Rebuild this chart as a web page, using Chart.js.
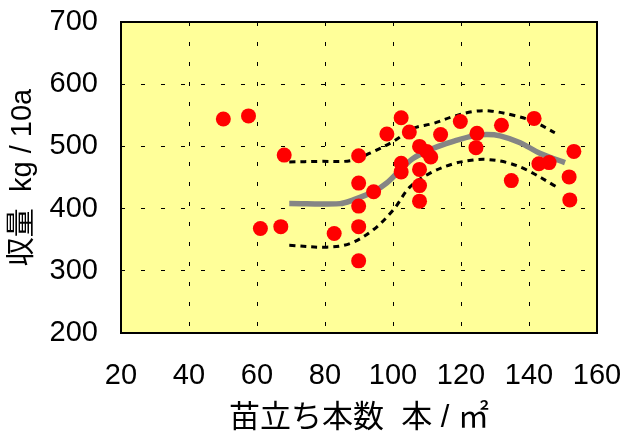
<!DOCTYPE html>
<html lang="ja">
<head>
<meta charset="UTF-8">
<title>苗立ち本数と収量</title>
<script src="https://cdn.jsdelivr.net/npm/chart.js"></script>
<style>
  body { margin: 0; background: #fff; }
  #wrap { width: 621px; height: 436px; }
</style>
</head>
<body>
<div id="wrap"><canvas id="yieldChart" width="621" height="436"></canvas></div>
<script>
// 苗立ち本数 (本/m2) と 収量 (kg/10a)
const standX = [50.1, 57.5, 68.0, 61.0, 67.0, 82.7, 89.9, 89.9, 89.9, 89.9, 89.9, 94.3,
                98.2, 102.4, 104.8, 102.4, 102.4, 107.8, 109.9, 111.1, 107.8, 107.8, 107.8,
                114.0, 119.8, 124.7, 124.4, 131.9, 134.8, 141.5, 142.9, 145.9, 153.2, 151.8, 152.0];
const yieldY = [544, 549, 486, 368, 371, 360, 485, 441, 404, 371, 316, 427,
                520, 546, 523, 473, 459, 500, 492, 483, 463, 437, 412,
                519, 540, 521, 498, 534, 445, 545, 472, 474, 492, 451, 414];

// 回帰曲線
const curveX = [69.5, 84.4, 88.3, 94.2, 98.1, 102.1, 106.0, 111.9, 117.7, 123.6, 127.6, 131.5, 137.4, 143.2, 150.6];
const curveY = [408, 408, 414, 427, 441, 462, 481, 497, 508, 517, 519, 517, 506, 489, 474];

// 信頼区間 上限・下限
const upperX = [69.5, 78.5, 87.4, 93.2, 100.1, 106.0, 111.9, 117.7, 123.6, 128.5, 135.4, 141.3, 147.6];
const upperY = [475, 476, 477, 489, 508, 529, 537, 548, 556, 557, 550, 540, 522];
const lowerX = [69.5, 80.5, 87.4, 94.2, 100.1, 105.0, 110.9, 117.7, 123.6, 127.6, 133.5, 139.4, 148.1];
const lowerY = [341, 338, 344, 366, 398, 435, 457, 472, 478, 479, 474, 462, 435];

const xTicks = [20, 40, 60, 80, 100, 120, 140, 160];
const yTicks = [200, 300, 400, 500, 600, 700];

const toPts = (xs, ys) => xs.map((x, i) => ({ x: x, y: ys[i] }));

const tickFont = { family: "'Liberation Sans', Arial, sans-serif", size: 29 };
const titleFamily = "'Liberation Sans', 'Noto Sans CJK JP', sans-serif";

// 黄色の背景と枠
const plotFrame = {
    id: 'plotFrame',
    beforeDraw(chart) {
        const { ctx, chartArea: a } = chart;
        ctx.save();
        ctx.fillStyle = '#ffff99';
        ctx.fillRect(a.left, a.top, a.width, a.height);
        ctx.restore();
    },
    beforeDatasetsDraw(chart) {
        const { ctx, chartArea: a } = chart;
        ctx.save();
        ctx.strokeStyle = '#000';
        ctx.lineWidth = 2;
        ctx.strokeRect(a.left, a.top, a.width, a.height);
        ctx.restore();
    }
};

const edgeHidden = (ends) => (c) => (c.tick && ends.includes(c.tick.value)) ? 'rgba(0,0,0,0)' : '#000';

const lineSet = (data, color, width, dash) => ({
    data: data,
    showLine: true,
    borderColor: color,
    borderWidth: width,
    borderDash: dash,
    pointRadius: 0,
    tension: 0.35,
    fill: false,
    order: 1
});

new Chart(document.getElementById('yieldChart'), {
    type: 'scatter',
    data: {
        datasets: [
            {
                data: toPts(standX, yieldY),
                backgroundColor: '#ff0000',
                borderWidth: 0,
                pointRadius: 7.5,
                order: 0
            },
            lineSet(toPts(curveX, curveY), '#858585', 5.5, []),
            lineSet(toPts(upperX, upperY), '#000', 3, [6, 5]),
            lineSet(toPts(lowerX, lowerY), '#000', 3, [6, 5])
        ]
    },
    options: {
        responsive: false,
        animation: false,
        layout: { padding: { top: 22, right: 24, left: 0, bottom: 0 } },
        plugins: { legend: { display: false }, tooltip: { enabled: false } },
        scales: {
            x: {
                type: 'linear',
                min: xTicks[0],
                max: xTicks[xTicks.length - 1],
                ticks: { stepSize: 20, color: '#000', font: tickFont, padding: 26 },
                grid: { color: edgeHidden([20, 160]), lineWidth: 1, drawTicks: false },
                border: { display: false, dash: [4, 16] },
                title: {
                    display: true, text: '苗立ち本数  本 / ㎡', color: '#000',
                    font: { family: titleFamily, size: 31, lineHeight: 1 },
                    padding: { top: 0, bottom: 2 }
                },
                afterFit(scale) {
                    scale.height = 103;
                    scale.paddingLeft = 0;
                    scale.paddingRight = 0;
                }
            },
            y: {
                min: yTicks[0],
                max: yTicks[yTicks.length - 1],
                ticks: { stepSize: 100, color: '#000', font: tickFont, padding: 23 },
                grid: { color: edgeHidden([200, 700]), lineWidth: 1, drawTicks: false },
                border: { display: false, dash: [4, 16] },
                title: {
                    display: true, text: '収量  kg / 10a', color: '#000',
                    font: { family: titleFamily, size: 29, lineHeight: 1 },
                    padding: { top: 8, bottom: 0 }
                },
                afterFit(scale) {
                    scale.width = 121;
                    scale.paddingTop = 0;
                    scale.paddingBottom = 0;
                }
            }
        }
    },
    plugins: [plotFrame]
});
</script>
</body>
</html>
